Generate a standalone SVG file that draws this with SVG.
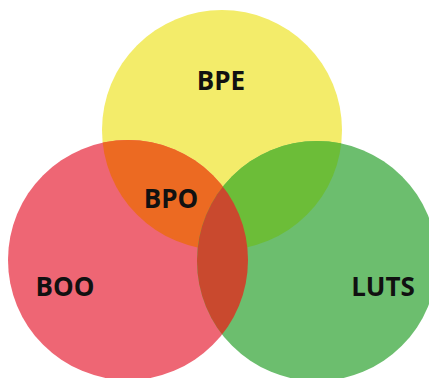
<svg xmlns="http://www.w3.org/2000/svg" width="429" height="378" viewBox="0 0 429 378">
  <style>
    .lbl { font-family: "Open Sans", "Liberation Sans", sans-serif; font-weight: 700; font-size: 26px; fill: #111; text-anchor: middle; }
  </style>
  <defs>
    <clipPath id="cY"><circle cx="222" cy="130" r="120"/></clipPath>
    <clipPath id="cR"><circle cx="128" cy="260" r="120"/></clipPath>
    <clipPath id="cG"><circle cx="317" cy="261" r="120"/></clipPath>
  </defs>
  <rect width="429" height="378" fill="#ffffff"/>
  <g id="bpe">
    <circle cx="222" cy="130" r="120" fill="#f3ec6a"/>
  </g>
  <g id="boo">
    <circle cx="128" cy="260" r="120" fill="#ee6674"/>
  </g>
  <g id="luts">
    <circle cx="317" cy="261" r="120" fill="#6cbe6e"/>
  </g>
  <g id="overlaps">
    <g clip-path="url(#cY)">
      <circle cx="128" cy="260" r="120" fill="#ec6a22"/>
      <circle cx="317" cy="261" r="120" fill="#6cbd38"/>
    </g>
    <g clip-path="url(#cR)">
      <circle cx="317" cy="261" r="120" fill="#c9492e"/>
    </g>
  </g>
  <g id="labels">
    <text class="lbl" x="221" y="90">BPE</text>
    <text class="lbl" x="171" y="208">BPO</text>
    <text class="lbl" x="65" y="296">BOO</text>
    <text class="lbl" x="383" y="296">LUTS</text>
  </g>
</svg>
